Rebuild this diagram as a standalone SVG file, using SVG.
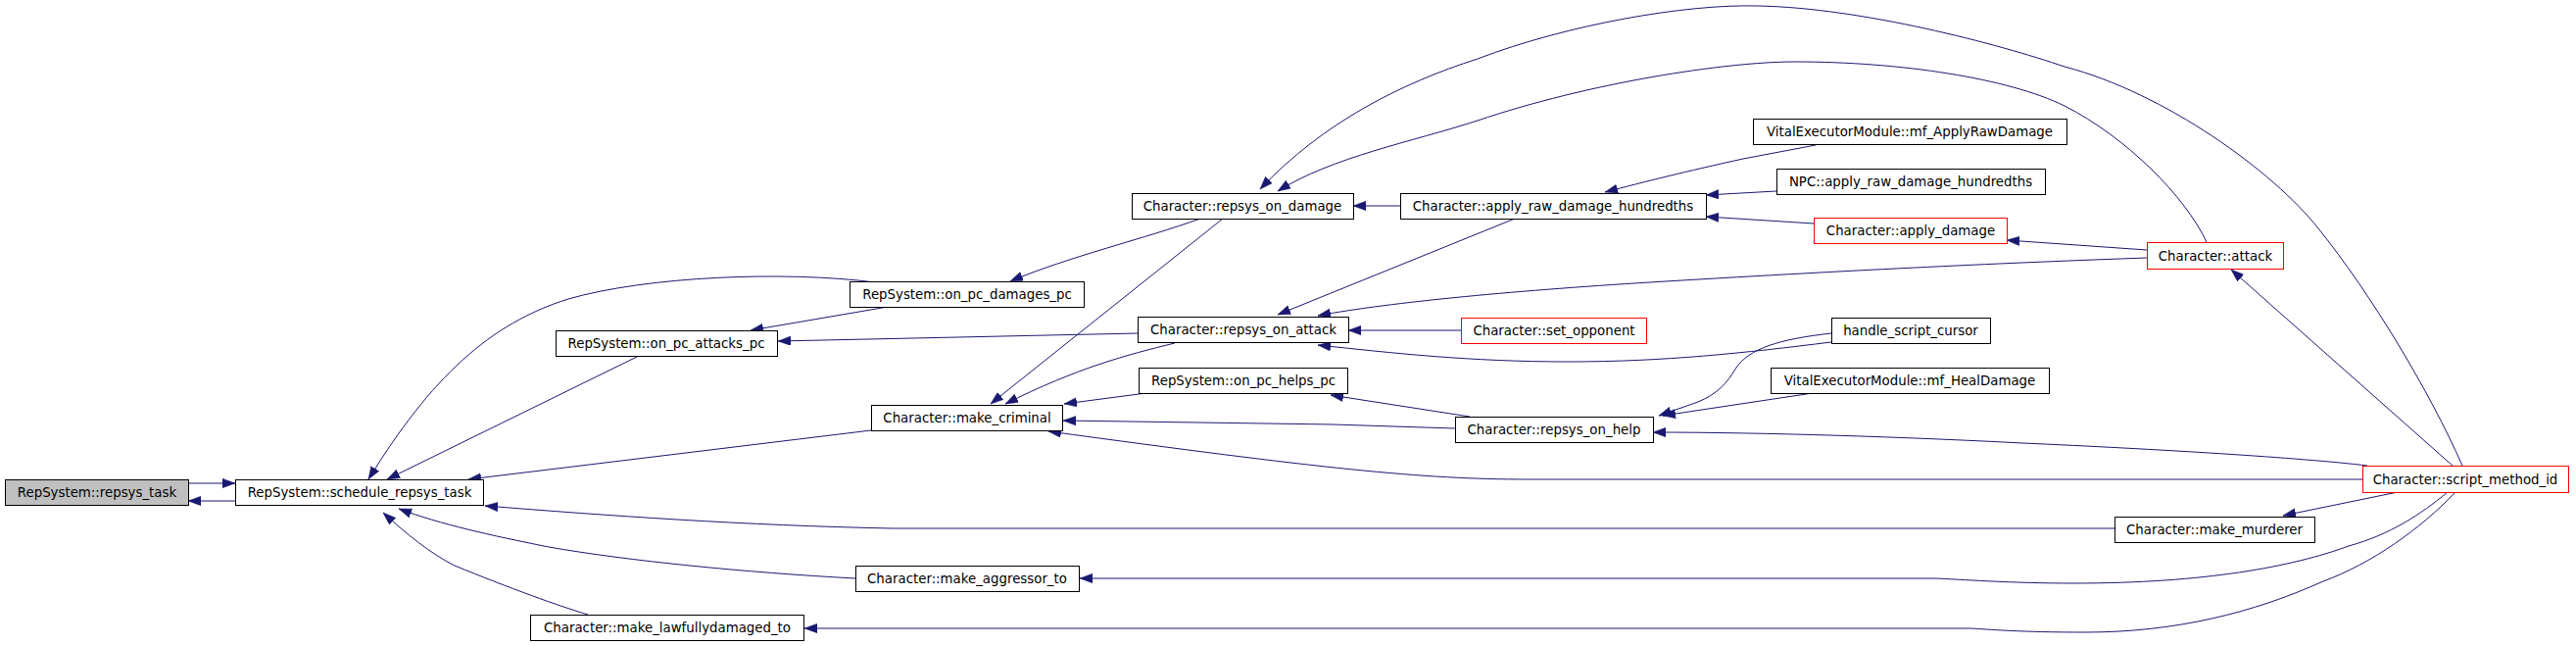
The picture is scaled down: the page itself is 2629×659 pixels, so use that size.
<svg xmlns="http://www.w3.org/2000/svg" width="2629" height="659" viewBox="0 0 2629 659">
<style>
.n rect{fill:#ffffff;stroke:#000000;stroke-width:1}
.n.r rect{stroke:#ff0000}
.n.g rect{fill:#bfbfbf}
.n text{font-family:"DejaVu Sans","Liberation Sans",sans-serif;font-size:13.33px;fill:#000000;text-anchor:middle}
#edges path{fill:none;stroke:#191970;stroke-width:1;marker-end:url(#arr)}
</style>
<defs>
<marker id="arr" markerUnits="userSpaceOnUse" markerWidth="14" markerHeight="10" refX="13" refY="4.7" orient="auto">
<path d="M0,0 L13,4.7 L0,9.4 Z" fill="#191970" stroke="#191970" stroke-width="0.5"/>
</marker>
</defs>
<rect width="2629" height="659" fill="#ffffff"/>
<g id="edges">
<path d="M192,493 L240,493"/>
<path d="M240,511 L192,511"/>
<path d="M893,288 C800,276 660,282 580,305 C500,330 440,385 376,489"/>
<path d="M906,313 L766,337"/>
<path d="M652,363 L395,489"/>
<path d="M1161,340 L794,348"/>
<path d="M1225,223 C1170,243 1090,262 1031,287"/>
<path d="M1248,223 L1011,412"/>
<path d="M1199,350 C1150,362 1100,375 1026,412"/>
<path d="M1170,401 L1086,412"/>
<path d="M1485,437 L1360,433 L1085,429"/>
<path d="M2411,489 L1560,489 C1450,489 1350,478 1070,440"/>
<path d="M2158,539 L910,539 C760,536 620,526 495,516"/>
<path d="M2498,502 C2470,525 2440,545 2397,557 C2340,578 2250,595 2117,595 C2050,595 2000,591 1975,590 L1102,590"/>
<path d="M2506,502 C2470,540 2420,575 2371,593 C2300,625 2220,645 2128,645 C2060,645 2030,642 2011,641 L821,641"/>
<path d="M2447,502 L2330,526"/>
<path d="M2503,475 L2277,275"/>
<path d="M2513,475 C2480,400 2420,300 2366,233 C2320,175 2210,95 2107,68 C2040,45 1900,8 1794,6 C1720,4 1600,25 1508,60 C1430,85 1350,125 1286,193"/>
<path d="M2252,247 C2230,200 2170,140 2107,108 C2050,80 1940,63 1832,63 C1760,63 1620,85 1508,123 C1440,145 1360,160 1304,195"/>
<path d="M2191,255 L2048,245"/>
<path d="M2191,263 C2050,268 1900,275 1700,287 C1550,296 1420,308 1345,322"/>
<path d="M1491,337 L1376,337"/>
<path d="M1869,349 C1780,360 1700,369 1600,369 C1500,369 1420,360 1345,352"/>
<path d="M1869,340 C1815,346 1785,356 1772,375 C1762,392 1752,402 1733,410 L1693,424"/>
<path d="M1850,401 L1697,424"/>
<path d="M1500,425 L1358,403"/>
<path d="M2416,475 C2350,467 2200,458 2064,452 C1950,446 1800,441 1687,441"/>
<path d="M1429,210 L1381,210"/>
<path d="M1546,223 L1304,321"/>
<path d="M1853,148 L1779,162 C1720,175 1680,185 1638,196"/>
<path d="M1813,195 L1741,199"/>
<path d="M1851,228 L1741,221"/>
<path d="M889,439 L478,489"/>
<path d="M873,590 C760,584 640,572 560,558 C500,546 450,535 407,519"/>
<path d="M600,627 C570,618 520,600 464,577 C440,565 415,545 391,523"/>
</g>
<g id="n0" class="n g"><rect x="5.5" y="489.5" width="187" height="26"/><text x="99" y="507">RepSystem::repsys_task</text></g>
<g id="n1" class="n"><rect x="240.5" y="489.5" width="253" height="26"/><text x="367" y="507">RepSystem::schedule_repsys_task</text></g>
<g id="n2" class="n"><rect x="867.5" y="287.5" width="239" height="26"/><text x="987" y="305">RepSystem::on_pc_damages_pc</text></g>
<g id="n3" class="n"><rect x="567.5" y="337.5" width="226" height="26"/><text x="680" y="355">RepSystem::on_pc_attacks_pc</text></g>
<g id="n4" class="n"><rect x="889.5" y="413.5" width="195" height="26"/><text x="987" y="431">Character::make_criminal</text></g>
<g id="n5" class="n"><rect x="873.5" y="577.5" width="228" height="26"/><text x="987" y="595">Character::make_aggressor_to</text></g>
<g id="n6" class="n"><rect x="541.5" y="627.5" width="279" height="26"/><text x="681" y="645">Character::make_lawfullydamaged_to</text></g>
<g id="n7" class="n"><rect x="1155.5" y="197.5" width="226" height="26"/><text x="1268" y="215">Character::repsys_on_damage</text></g>
<g id="n8" class="n"><rect x="1161.5" y="323.5" width="215" height="26"/><text x="1269" y="341">Character::repsys_on_attack</text></g>
<g id="n9" class="n"><rect x="1162.5" y="375.5" width="213" height="26"/><text x="1269" y="393">RepSystem::on_pc_helps_pc</text></g>
<g id="n10" class="n"><rect x="1485.5" y="425.5" width="202" height="26"/><text x="1586" y="443">Character::repsys_on_help</text></g>
<g id="n11" class="n"><rect x="1429.5" y="197.5" width="312" height="26"/><text x="1585" y="215">Character::apply_raw_damage_hundredths</text></g>
<g id="n12" class="n r"><rect x="1491.5" y="324.5" width="189" height="26"/><text x="1586" y="342">Character::set_opponent</text></g>
<g id="n13" class="n"><rect x="1789.5" y="121.5" width="320" height="26"/><text x="1949" y="139">VitalExecutorModule::mf_ApplyRawDamage</text></g>
<g id="n14" class="n"><rect x="1813.5" y="172.5" width="274" height="26"/><text x="1950" y="190">NPC::apply_raw_damage_hundredths</text></g>
<g id="n15" class="n r"><rect x="1851.5" y="222.5" width="197" height="26"/><text x="1950" y="240">Character::apply_damage</text></g>
<g id="n16" class="n"><rect x="1869.5" y="324.5" width="162" height="26"/><text x="1950" y="342">handle_script_cursor</text></g>
<g id="n17" class="n"><rect x="1807.5" y="375.5" width="284" height="26"/><text x="1949" y="393">VitalExecutorModule::mf_HealDamage</text></g>
<g id="n18" class="n"><rect x="2158.5" y="527.5" width="204" height="26"/><text x="2260" y="545">Character::make_murderer</text></g>
<g id="n19" class="n r"><rect x="2191.5" y="247.5" width="139" height="27"/><text x="2261" y="265.5">Character::attack</text></g>
<g id="n20" class="n r"><rect x="2411.5" y="475.5" width="210" height="27"/><text x="2516" y="493.5">Character::script_method_id</text></g>
</svg>
